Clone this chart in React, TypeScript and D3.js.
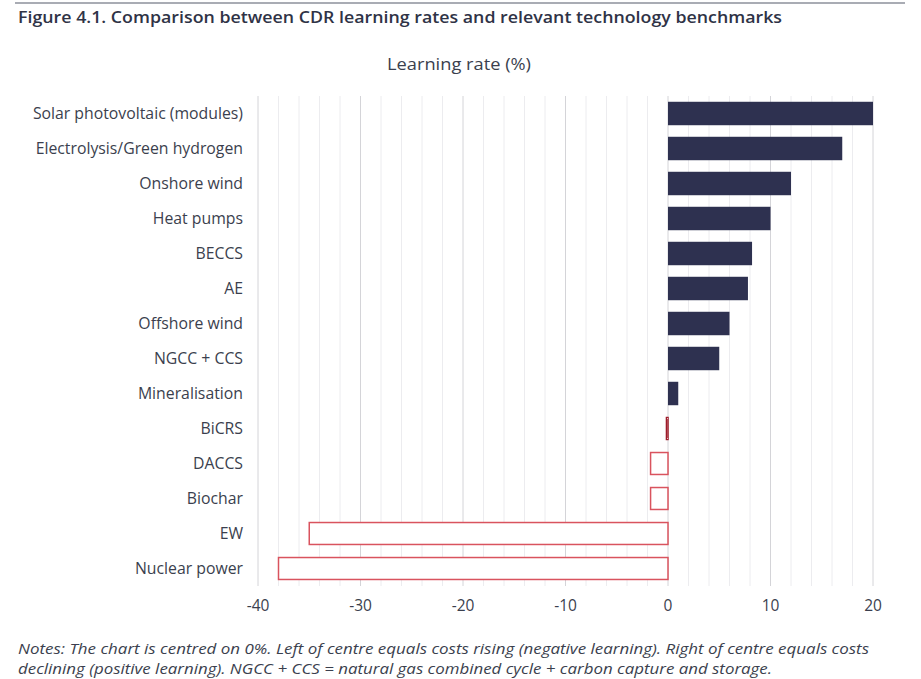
import React from "react";
import * as d3 from "d3";

const categories: string[] = [
  "Solar photovoltaic (modules)",
  "Electrolysis/Green hydrogen",
  "Onshore wind",
  "Heat pumps",
  "BECCS",
  "AE",
  "Offshore wind",
  "NGCC + CCS",
  "Mineralisation",
  "BiCRS",
  "DACCS",
  "Biochar",
  "EW",
  "Nuclear power",
];
const learningRates: number[] = [20, 17, 12, 10, 8.2, 7.8, 6, 5, 1, -0.15, -1.7, -1.7, -35, -38];
const xTicks: number[] = [-40, -30, -20, -10, 0, 10, 20];
const gridValues: number[] = d3.range(-40, 21, 2);

const titleText = "Figure 4.1. Comparison between CDR learning rates and relevant technology benchmarks";
const axisTitle = "Learning rate (%)";
const notes1 = "Notes: The chart is centred on 0%. Left of centre equals costs rising (negative learning). Right of centre equals costs";
const notes2 = "declining (positive learning). NGCC + CCS = natural gas combined cycle + carbon capture and storage.";

const W = 921;
const H = 679;
const FONT = "'Open Sans', Lato, sans-serif";
const TEXT = "#3b3f4e";
const NAVY = "#2e3150";
const RED = "#d9535e";

export default function App() {
  const x = d3.scaleLinear().domain([-40, 20]).range([258, 873]);
  const y = d3
    .scaleBand<string>()
    .domain(categories)
    .range([96, 586])
    .paddingInner(0.33)
    .paddingOuter(0.165);

  return (
    <svg width={W} height={H} style={{ position: "absolute", left: 0, top: 0, background: "#fff" }}>
      <line x1={15} x2={905} y1={3} y2={3} stroke="#555a6a" strokeWidth={1.2} />
      <text x={18} y={23} fontFamily={FONT} fontSize={17} fontWeight={600} fill="#2f3346"
        textLength={764} lengthAdjust="spacingAndGlyphs">
        {titleText}
      </text>
      <text x={459} y={70} textAnchor="middle" fontFamily={FONT} fontSize={16.5} fill={TEXT}
        textLength={144} lengthAdjust="spacingAndGlyphs">
        {axisTitle}
      </text>

      {gridValues.map((v) => (
        <line
          key={v}
          x1={x(v)}
          x2={x(v)}
          y1={96}
          y2={586}
          stroke={v % 10 === 0 ? "#d4d4d8" : "#ececef"}
          strokeWidth={1}
        />
      ))}

      {categories.map((c, i) => {
        const v = learningRates[i];
        const x0 = x(Math.min(0, v));
        const w = Math.abs(x(v) - x(0));
        const yy = y(c)!;
        return v >= 0 ? (
          <rect key={c} x={x(0)} y={yy} width={w} height={y.bandwidth()} fill={NAVY} />
        ) : (
          <rect
            key={c}
            x={x0}
            y={yy + 0.75}
            width={w}
            height={y.bandwidth() - 1.5}
            fill="#fff"
            stroke={Math.abs(v) < 0.5 ? "#9e1c2a" : RED}
            strokeWidth={1.5}
          />
        );
      })}

      {categories.map((c) => (
        <text
          key={c}
          x={243}
          y={y(c)! + y.bandwidth() / 2}
          dy="0.35em"
          textAnchor="end"
          fontFamily={FONT}
          fontSize={15.8}
          fill={TEXT}
        >
          {c}
        </text>
      ))}

      {xTicks.map((t) => (
        <text key={t} x={x(t)} y={611} textAnchor="middle" fontFamily={FONT} fontSize={15.5} fill={TEXT}>
          {t}
        </text>
      ))}

      <text x={18} y={654} fontFamily={FONT} fontSize={15} fontStyle="italic" fill={TEXT}
        textLength={851} lengthAdjust="spacingAndGlyphs">
        {notes1}
      </text>
      <text x={18} y={674} fontFamily={FONT} fontSize={15} fontStyle="italic" fill={TEXT}
        textLength={754} lengthAdjust="spacingAndGlyphs">
        {notes2}
      </text>
    </svg>
  );
}
